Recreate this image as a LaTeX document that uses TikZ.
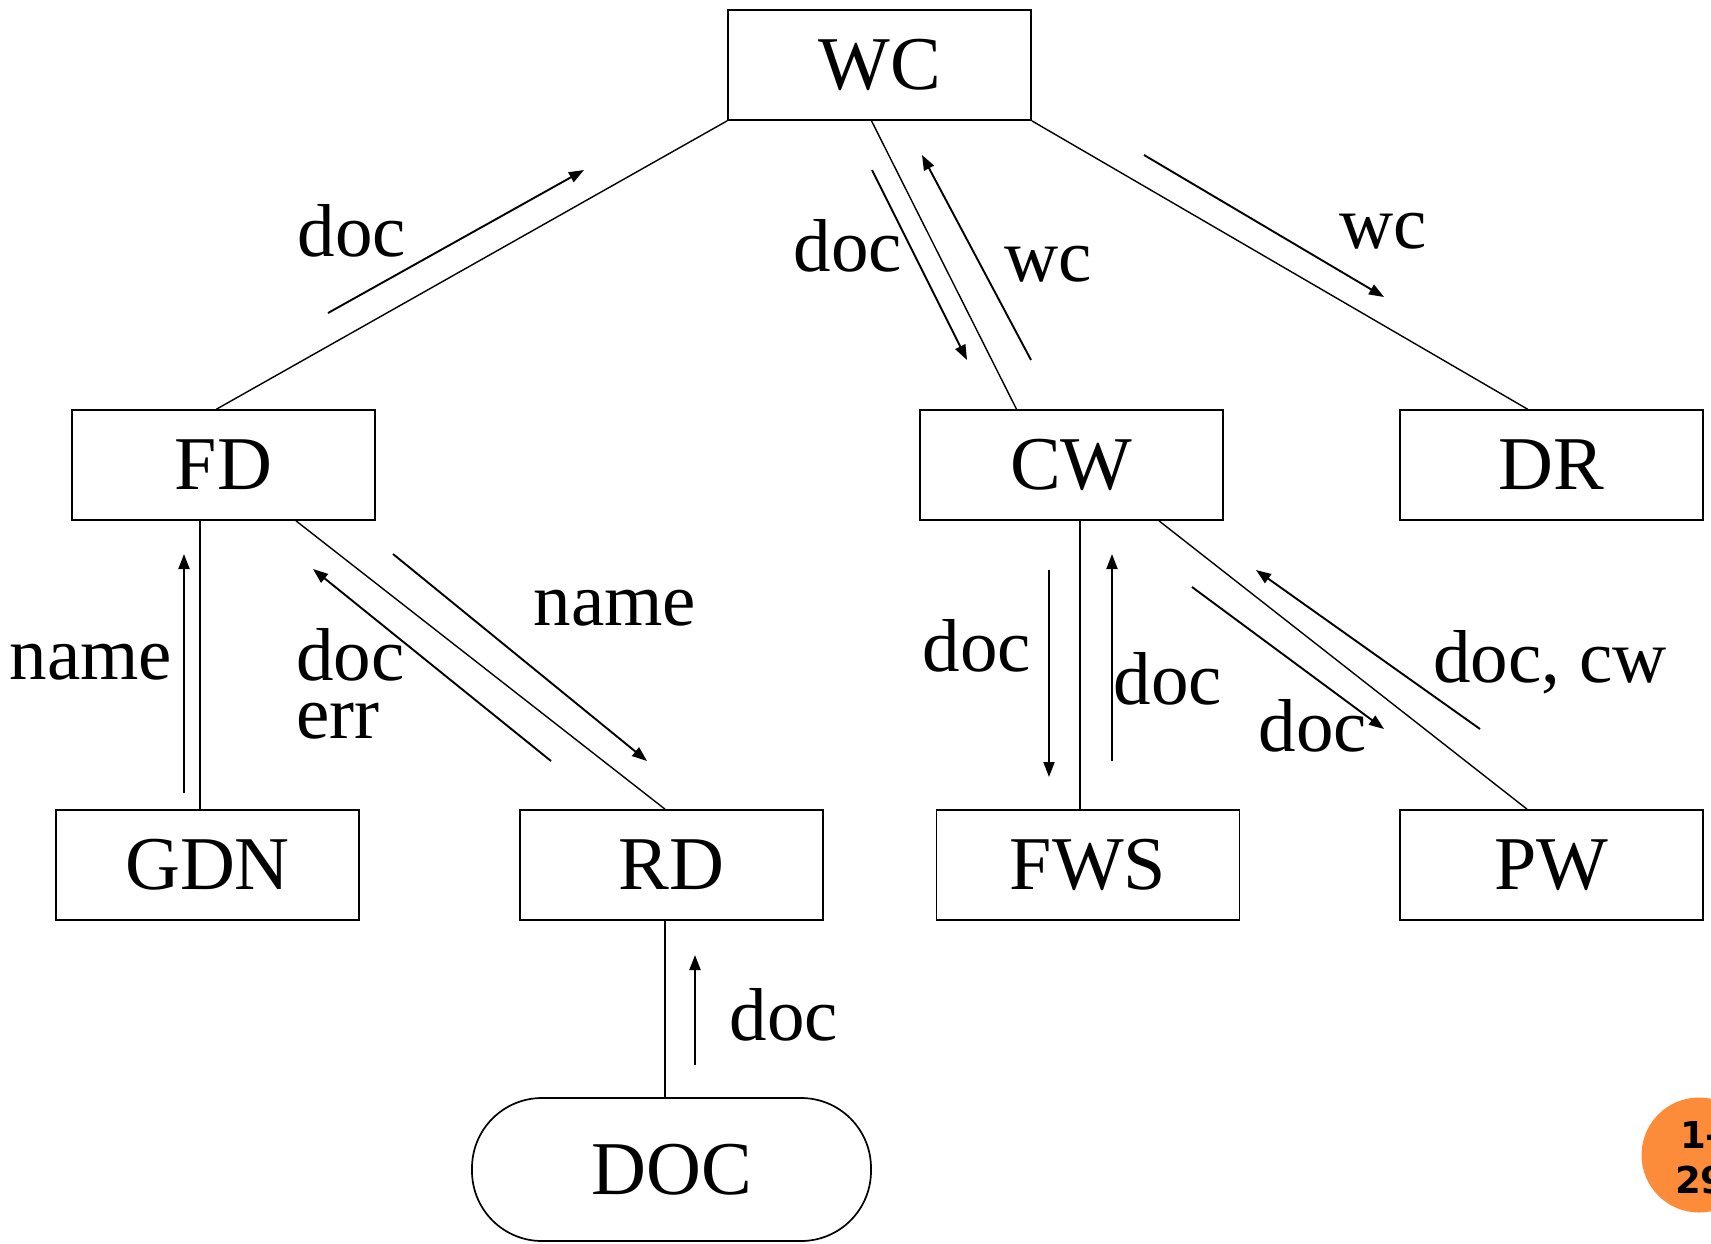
\documentclass[tikz,border=0pt]{standalone}
\usepackage{fontspec}
\setmainfont{Liberation Serif}
\newfontfamily\badgefont{DejaVu Sans}
\usetikzlibrary{calc,arrows.meta}
\definecolor{badge}{RGB}{252,139,58}
\begin{document}
\begin{tikzpicture}[x=1pt,y=-1pt,
  box/.style={draw,line width=1.7pt,minimum width=303pt,minimum height=110pt,inner sep=0pt,
    font=\fontsize{76}{80}\selectfont},
  link/.style={line width=1.4pt},
  flow/.style={line width=1.9pt,-{Triangle[length=15pt,width=11pt]}},
  lbl/.style={inner sep=0pt,font=\fontsize{75}{58}\selectfont}]
\useasboundingbox (0,0) rectangle (1711,1243);
\clip (0,0) rectangle (1711,1243);

% processes
\node[box] (WC)  at (879.5,65)   {WC};
\node[box] (FD)  at (223.5,465)  {FD};
\node[box] (CW)  at (1071.5,465) {CW};
\node[box] (DR)  at (1551.5,465) {DR};
\node[box] (GDN) at (207.5,865)  {GDN};
\node[box] (RD)  at (671.5,865)  {RD};
\node[box] (FWS) at (1088,865)   {FWS};
\node[box] (PW)  at (1551.5,865) {PW};
\node[box,minimum width=399pt,minimum height=143pt,rounded corners=70pt] (DOC) at (671.5,1169.5) {DOC};

% structure chart links
\draw[link] (WC.south west) -- ($(FD.north)+(-7,0)$);
\draw[link] ($(WC.south)+(-8,0)$) -- ($(CW.north)+(-55,0)$);
\draw[link] (WC.south east) -- ($(DR.north)+(-24,0)$);
\draw[link] ($(FD.south)+(-23.5,0)$) -- ($(GDN.north)+(-7.5,0)$);
\draw[link] ($(FD.south)+(72.5,0)$) -- ($(RD.north)+(-6.5,0)$);
\draw[link] ($(RD.south)+(-6.5,0)$) -- ($(DOC.north)+(-6.5,0)$);
\draw[link] ($(CW.south)+(8.5,0)$) -- ($(FWS.north)+(-8,0)$);
\draw[link] ($(CW.south)+(87.5,0)$) -- ($(PW.north)+(-24.5,0)$);

% data flow arrows
\coordinate (a1s) at (328,313);  \coordinate (a1e) at (584,170);
\coordinate (a2s) at (872,170);  \coordinate (a2e) at (967,360);
\coordinate (a3s) at (1031,360); \coordinate (a3e) at (922,155);
\coordinate (a4s) at (1144,155); \coordinate (a4e) at (1384,297);
\coordinate (a5s) at (184,793);  \coordinate (a5e) at (184,554);
\coordinate (a6s) at (551,761);  \coordinate (a6e) at (313,569);
\coordinate (a7s) at (393,554);  \coordinate (a7e) at (647,761);
\coordinate (a8s) at (695,1065); \coordinate (a8e) at (695,955);
\coordinate (a9s) at (1049,570); \coordinate (a9e) at (1049,777);
\coordinate (a10s) at (1112,761); \coordinate (a10e) at (1112,554);
\coordinate (a11s) at (1192,587); \coordinate (a11e) at (1384,729);
\coordinate (a12s) at (1480,729); \coordinate (a12e) at (1256,570);
\foreach \i in {1,...,12} \draw[flow] (a\i s) -- (a\i e);

% flow labels
\node[lbl] (l1)  at (352,231)  {doc};
\node[lbl] (l2)  at (848,246)  {doc};
\node[lbl] (l3)  at (1048,264) {wc};
\node[lbl] (l4)  at (1383,231) {wc};
\node[lbl] (l5)  at (91,662)   {name};
\node[lbl,align=left,anchor=west] (l6) at (296,684) {doc\\err};
\node[lbl] (l7)  at (615,608)  {name};
\node[lbl] (l8)  at (977,646)  {doc};
\node[lbl] (l9)  at (1168,679) {doc};
\node[lbl] (l10) at (1313,726) {doc};
\node[lbl] (l11) at (1550,662) {doc, cw};
\node[lbl] (l12) at (784,1015) {doc};

% page badge
\fill[badge] (1699,1155) circle (57.5);
\node[inner sep=0pt,anchor=base west,font=\badgefont\bfseries\fontsize{37}{45}\selectfont] (b1) at (1680,1148) {1-};
\node[inner sep=0pt,anchor=base west,font=\badgefont\bfseries\fontsize{37}{45}\selectfont] (b2) at (1675,1193) {29};
\end{tikzpicture}
\end{document}
